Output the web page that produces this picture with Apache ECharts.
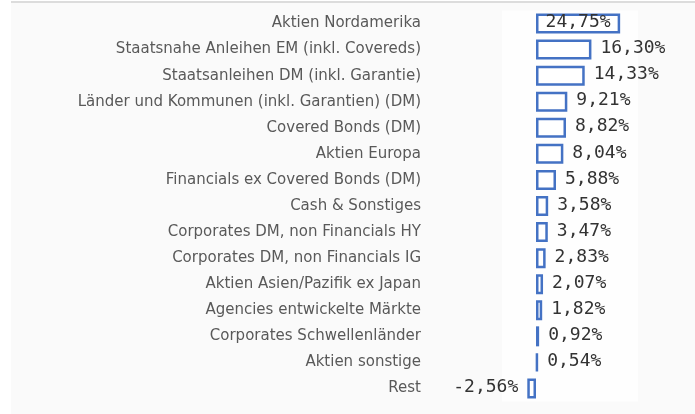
<!DOCTYPE html>
<html><head><meta charset="utf-8">
<script src="https://cdn.jsdelivr.net/npm/echarts@6/dist/echarts.min.js"></script>
<style>html,body{margin:0;padding:0;background:#fff;}#c{width:695px;height:414px;}</style>
</head><body><div id="c"></div>
<script>
var categories = ["Aktien Nordamerika","Staatsnahe Anleihen EM (inkl. Covereds)","Staatsanleihen DM (inkl. Garantie)","Länder und Kommunen (inkl. Garantien) (DM)","Covered Bonds (DM)","Aktien Europa","Financials ex Covered Bonds (DM)","Cash & Sonstiges","Corporates DM, non Financials HY","Corporates DM, non Financials IG","Aktien Asien/Pazifik ex Japan","Agencies entwickelte Märkte","Corporates Schwellenländer","Aktien sonstige","Rest"];
var values = [24.75,16.30,14.33,9.21,8.82,8.04,5.88,3.58,3.47,2.83,2.07,1.82,0.92,0.54,-2.56];

function fmt(v){ return v.toFixed(2).replace('.', ',') + '%'; }

var data = values.map(function(v, i){
  var pos = v < 0 ? 'left' : (i === 0 ? 'inside' : 'right');
  return {value: v, label: {position: pos}};
});

var chart = echarts.init(document.getElementById('c'));
chart.setOption({
  animation: false,
  backgroundColor: '#ffffff',
  graphic: [
    {type:'rect', z:-10, shape:{x:11,y:2,width:684,height:412}, style:{fill:'#fafafa'}},
    {type:'rect', z:-9, shape:{x:11,y:1,width:684,height:2}, style:{fill:'#dcdcdc'}}
  ],
  grid: {left: 502, right: 57, top: 10.5, bottom: 12.5, show: true, backgroundColor: '#fefefe', borderWidth: 0},
  xAxis: {type:'value', min:-10, max:30, show:false},
  yAxis: {type:'category', data: categories, inverse: true,
    axisLine:{show:false}, axisTick:{show:false}, splitLine:{show:false},
    axisLabel:{margin:81, color:'#595959', fontSize:15, fontFamily:'DejaVu Sans', padding:[0,0,5,0]}},
  series: [{
    type:'bar', data: data, barWidth: 20,
    itemStyle:{color:'#ffffff', borderColor:'#4472c4', borderWidth:2.5},
    label:{show:true, distance:9, color:'#333333', fontSize:18, fontFamily:'DejaVu Sans Mono', offset:[0,-1],
      formatter: function(p){ return fmt(p.value); }}
  }]
});
</script></body></html>
